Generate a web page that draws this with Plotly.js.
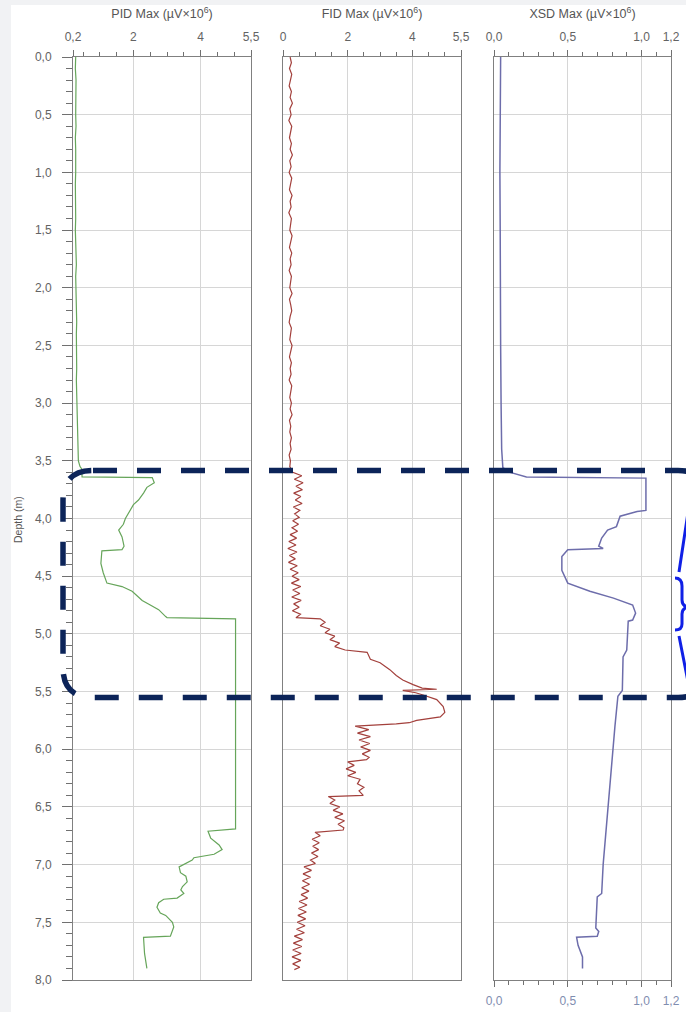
<!DOCTYPE html>
<html>
<head>
<meta charset="utf-8">
<script src="https://cdn.plot.ly/plotly-3.0.1.min.js"></script>
<style>
html,body{margin:0;padding:0;background:#ffffff;}
#plot{width:686px;height:1012px;}
</style>
</head>
<body>
<div id="plot"></div>
<script>
// ---------------- data ----------------
const pidDepth = [0.0,0.1,0.2,0.3,0.4,0.5,0.6,0.7,0.8,0.9,
  1.0,1.1,1.2,1.3,1.4,1.5,1.6,1.7,1.8,1.9,
  2.0,2.1,2.2,2.3,2.4,2.5,2.6,2.7,2.8,2.9,
  3.0,3.1,3.2,3.3,3.4,3.5,3.55,3.57,3.64,3.645,
  3.69,3.73,3.78,3.84,3.88,3.93,4.0,4.05,4.1,4.16,
  4.24,4.27,4.28,4.39,4.47,4.56,4.57,4.59,4.63,4.67,
  4.71,4.75,4.79,4.85,4.86,4.87,6.69,6.71,6.77,6.83,
  6.87,6.91,6.94,6.96,7.02,7.07,7.1,7.15,7.19,7.22,
  7.25,7.29,7.3,7.33,7.37,7.42,7.44,7.5,7.54,7.62,
  7.63,7.77,7.9];
const pidValue = [0.28,0.27,0.29,0.28,0.27,0.28,0.29,0.27,0.28,0.29,
  0.28,0.27,0.28,0.29,0.28,0.27,0.28,0.29,0.30,0.28,
  0.29,0.30,0.29,0.31,0.30,0.31,0.30,0.31,0.30,0.31,
  0.30,0.31,0.32,0.33,0.34,0.36,0.41,0.46,0.47,2.56,
  2.62,2.40,2.30,2.15,2.00,1.90,1.76,1.70,1.56,1.66,
  1.72,1.66,1.06,1.03,1.10,1.21,1.36,1.66,1.96,2.10,
  2.26,2.50,2.75,2.96,3.00,5.04,5.04,4.22,4.30,4.55,
  4.64,4.40,3.80,3.75,3.36,3.40,3.56,3.60,3.46,3.41,
  3.50,3.30,2.90,2.75,2.70,2.80,2.96,3.16,3.20,3.10,
  2.30,2.33,2.40];

const fidDepthA = [0.00,0.05,0.10,0.15,0.20,0.25,0.30,0.35,0.40,0.45,
  0.50,0.55,0.60,0.65,0.70,0.75,0.80,0.85,0.90,0.95,
  1.00,1.05,1.10,1.15,1.20,1.25,1.30,1.35,1.40,1.45,
  1.50,1.55,1.60,1.65,1.70,1.75,1.80,1.85,1.90,1.95,
  2.00,2.05,2.10,2.15,2.20,2.25,2.30,2.35,2.40,2.45,
  2.50,2.55,2.60,2.65,2.70,2.75,2.80,2.85,2.90,2.95,
  3.00,3.05,3.10,3.15,3.20,3.25,3.30,3.35,3.40,3.45,
  3.50,3.55];
const fidValueA = [0.22,0.26,0.20,0.27,0.23,0.19,0.26,0.22,0.29,0.21,
  0.25,0.18,0.27,0.23,0.20,0.26,0.22,0.29,0.21,0.25,
  0.19,0.27,0.23,0.20,0.28,0.22,0.25,0.18,0.26,0.23,
  0.21,0.28,0.24,0.20,0.27,0.22,0.25,0.19,0.26,0.23,
  0.21,0.28,0.20,0.24,0.27,0.22,0.19,0.26,0.23,0.21,
  0.28,0.24,0.20,0.26,0.22,0.25,0.19,0.27,0.23,0.21,
  0.26,0.22,0.28,0.20,0.24,0.21,0.26,0.22,0.25,0.19,
  0.23,0.21];
const fidDepthB = [3.60,3.63,3.66,3.69,3.72,3.75,3.78,3.81,3.84,3.87,
  3.90,3.93,3.96,3.99,4.02,4.05,4.08,4.11,4.14,4.17,
  4.20,4.23,4.26,4.29,4.32,4.35,4.38,4.41,4.44,4.47,
  4.50,4.53,4.56,4.59,4.62,4.65,4.68,4.71,4.74,4.77,
  4.80,4.83,4.86];
const fidValueB = [0.30,0.58,0.35,0.62,0.40,0.60,0.33,0.55,0.38,0.59,
  0.32,0.52,0.36,0.50,0.30,0.48,0.28,0.45,0.22,0.42,
  0.18,0.40,0.15,0.43,0.20,0.38,0.17,0.44,0.22,0.47,
  0.28,0.50,0.26,0.55,0.30,0.52,0.27,0.56,0.33,0.50,
  0.29,0.54,0.40];
const fidDepthC = [4.87,4.90,4.93,4.96,4.99,5.02,5.05,5.08,5.11,5.14,
  5.16,5.22,5.25,5.31,5.36,5.40,5.42,5.44,5.47,5.48,
  5.49,5.51,5.53,5.57,5.63,5.68,5.72,5.75,5.77,5.78,
  5.80];
const fidValueC = [1.15,1.30,1.15,1.45,1.30,1.60,1.45,1.75,1.60,1.92,
  2.60,2.70,3.00,3.30,3.50,3.70,3.85,4.02,4.30,4.75,
  3.70,4.10,4.33,4.75,4.95,5.00,4.86,4.13,3.90,3.50,
  2.23];
const fidDepthD = [5.83,5.86,5.89,5.92,5.95,5.98,6.01,6.04,6.07,6.09,
  6.11,6.14,6.17,6.20,6.23,6.26,6.30,6.33,6.36,6.40,
  6.41,6.44,6.47,6.50,6.53,6.56,6.59,6.62,6.65,6.68,
  6.70,6.72,6.75,6.78,6.81,6.84,6.87,6.90,6.93,6.96,
  6.99,7.02,7.05,7.08,7.11,7.14,7.17,7.20,7.23,7.26,
  7.29,7.32,7.35,7.38,7.41,7.44,7.47,7.50,7.53,7.56,
  7.59,7.62,7.65,7.68,7.71,7.74,7.77,7.80,7.83,7.86,
  7.89,7.91];
const fidValueD = [2.65,2.30,2.70,2.35,2.68,2.40,2.70,2.45,2.66,2.58,
  2.00,2.20,1.95,2.25,2.00,2.38,2.30,2.50,2.35,2.48,
  1.40,1.60,1.45,1.75,1.55,1.85,1.60,1.90,1.70,1.88,
  1.86,0.99,1.15,0.90,1.12,0.92,1.10,0.88,1.08,0.85,
  1.00,0.65,0.88,0.62,0.85,0.60,0.82,0.58,0.80,0.56,
  0.76,0.50,0.74,0.48,0.72,0.46,0.70,0.44,0.68,0.42,
  0.66,0.35,0.60,0.32,0.58,0.30,0.56,0.28,0.55,0.30,
  0.52,0.35];

const xsdDepth = [0.0,0.5,1.0,1.5,2.0,2.5,3.0,3.4,3.56,3.6,
  3.64,3.65,3.93,3.94,3.98,4.07,4.1,4.17,4.24,4.26,
  4.27,4.33,4.45,4.56,4.63,4.69,4.75,4.82,4.88,4.89,
  5.14,5.2,5.49,5.54,5.8,6.09,6.44,6.8,7.0,7.25,
  7.28,7.55,7.58,7.62,7.63,7.7,7.8,7.9];
const xsdValue = [0.045,0.040,0.040,0.042,0.042,0.045,0.048,0.052,0.060,0.110,
  0.220,1.030,1.030,0.970,0.855,0.830,0.770,0.730,0.710,0.740,
  0.500,0.460,0.460,0.500,0.650,0.810,0.940,0.960,0.940,0.910,
  0.900,0.875,0.870,0.840,0.820,0.800,0.775,0.755,0.740,0.730,
  0.700,0.690,0.710,0.700,0.560,0.570,0.600,0.600];

const pidTicks = [0.2, 2, 4, 5.5];
const pidTickText = ['0,2', '2', '4', '5,5'];
const fidTicks = [0, 2, 4, 5.5];
const fidTickText = ['0', '2', '4', '5,5'];
const xsdTicks = [0, 0.5, 1.0, 1.2];
const xsdTickText = ['0,0', '0,5', '1,0', '1,2'];
const titles = ['PID Max (µV×10<sup>6</sup>)', 'FID Max (µV×10<sup>6</sup>)', 'XSD Max (µV×10<sup>6</sup>)'];
const depthTitle = 'Depth (m)';

// ---------------- layout helpers ----------------
const W = 686, H = 1012;
const px = v => v / W;                    // pixel -> paper x
const yTop = 57, yBot = 980;
const dep = p => (p - yTop) / (yBot - yTop) * 8;   // pixel -> depth

const gridC = '#d6d6d6', lineC = '#808080', tickC = '#707070';
const tickFont = {family: 'Liberation Sans, Arial, sans-serif', size: 12, color: '#636363'};
const titleFont = {family: 'Liberation Sans, Arial, sans-serif', size: 12.5, color: '#555555'};

function xAxis(dom, range, tv, tt, anchor, title, minorD) {
  return {
    domain: [px(dom[0]), px(dom[1])], range: range, anchor: anchor, side: 'top',
    tickmode: 'array', tickvals: tv, ticktext: tt,
    showgrid: true, gridcolor: gridC, gridwidth: 1, zeroline: false,
    showline: true, linecolor: lineC, linewidth: 1, mirror: true,
    ticks: 'outside', ticklen: 6, tickcolor: tickC, tickwidth: 1,
    minor: {tickmode: 'linear', tick0: 0, dtick: minorD, ticks: 'outside', ticklen: 4, tickcolor: tickC, tickwidth: 1, showgrid: false},
    tickfont: tickFont, automargin: false, fixedrange: true, ticklabelstandoff: 4,
    title: {text: title, font: titleFont, standoff: 8}
  };
}
function yAxis(anchor, labels) {
  return {
    domain: [1 - yBot / H, 1 - yTop / H], range: [8, 0], anchor: anchor,
    tickmode: 'linear', tick0: 0, dtick: 0.5, tickformat: '.1f',
    showticklabels: labels, ticks: labels ? 'outside' : '', ticklen: 10, tickcolor: tickC,
    minor: labels ? {tickmode: 'linear', tick0: 0, dtick: 0.1, ticks: 'outside', ticklen: 6, tickcolor: tickC, tickwidth: 1, showgrid: false} : {},
    showgrid: true, gridcolor: gridC, gridwidth: 1, zeroline: false,
    showline: true, linecolor: lineC, linewidth: 1, mirror: true,
    tickfont: tickFont, automargin: false, fixedrange: true, ticklabelstandoff: 8
  };
}

const traces = [
  {x: pidValue, y: pidDepth, xaxis: 'x', yaxis: 'y', type: 'scatter', mode: 'lines',
   line: {color: '#66a55a', width: 1.2}, hoverinfo: 'skip'},
  {x: [].concat(fidValueA, fidValueB, fidValueC, fidValueD),
   y: [].concat(fidDepthA, fidDepthB, fidDepthC, fidDepthD),
   xaxis: 'x2', yaxis: 'y2', type: 'scatter', mode: 'lines',
   line: {color: '#a3403c', width: 1.2}, hoverinfo: 'skip'},
  {x: xsdValue, y: xsdDepth, xaxis: 'x3', yaxis: 'y3', type: 'scatter', mode: 'lines',
   line: {color: '#6d6dab', width: 1.5}, hoverinfo: 'skip'},
  {x: xsdValue, y: xsdDepth, xaxis: 'x4', yaxis: 'y3', type: 'scatter', mode: 'lines',
   line: {color: 'rgba(0,0,0,0)', width: 0}, hoverinfo: 'skip'}
];

// dashed rounded box (annotation overlay)
const L = 63, R = 708, T = 470.5, B = 697.5, rad = 30;
const boxPath = 'M' + px(L + rad) + ',' + dep(T) +
  ' L' + px(R - rad) + ',' + dep(T) +
  ' Q' + px(R) + ',' + dep(T) + ' ' + px(R) + ',' + dep(T + rad) +
  ' L' + px(R) + ',' + dep(B - rad) +
  ' Q' + px(R) + ',' + dep(B) + ' ' + px(R - rad) + ',' + dep(B) +
  ' L' + px(L + rad) + ',' + dep(B) +
  ' Q' + px(L) + ',' + dep(B) + ' ' + px(L) + ',' + dep(B - rad) +
  ' L' + px(L) + ',' + dep(T + rad) +
  ' Q' + px(L) + ',' + dep(T) + ' ' + px(L + rad) + ',' + dep(T);

// blue brace on the right
const P = (a, b) => px(a) + ',' + dep(b);
const bracePath = 'M' + P(692, 486) + ' L' + P(679, 572) +
  ' M' + P(675, 578) + ' Q' + P(682, 578) + ' ' + P(682, 586) +
  ' L' + P(682, 600) + ' Q' + P(682, 606) + ' ' + P(688, 607) +
  ' Q' + P(682, 608) + ' ' + P(682, 614) +
  ' L' + P(682, 624) + ' Q' + P(682, 630) + ' ' + P(675, 630) +
  ' M' + P(679, 636) + ' L' + P(692, 702);

const layout = {
  width: W, height: H, margin: {l: 0, r: 0, t: 0, b: 0},
  paper_bgcolor: '#ffffff', plot_bgcolor: '#ffffff',
  separators: ',.', showlegend: false,
  xaxis: xAxis([73, 251], [0.2, 5.5], pidTicks, pidTickText, 'y', titles[0], 0.5),
  xaxis2: xAxis([283, 461], [0, 5.5], fidTicks, fidTickText, 'y2', titles[1], 0.5),
  xaxis3: xAxis([494, 671], [0, 1.2], xsdTicks, xsdTickText, 'y3', titles[2], 0.1),
  xaxis4: {overlaying: 'x3', matches: 'x3', anchor: 'y3', side: 'bottom', range: [0, 1.2],
    tickmode: 'array', tickvals: xsdTicks, ticktext: xsdTickText,
    ticks: 'outside', ticklen: 6, tickcolor: tickC, showgrid: false, zeroline: false,
    showline: true, linecolor: lineC, ticklabelstandoff: 4,
    minor: {tickmode: 'linear', tick0: 0, dtick: 0.1, ticks: 'outside', ticklen: 4, tickcolor: tickC, tickwidth: 1},
    tickfont: {family: 'Liberation Sans, Arial, sans-serif', size: 12, color: '#7f8db0'},
    automargin: false, fixedrange: true},
  yaxis: yAxis('x', true),
  yaxis2: Object.assign(yAxis('x2', false), {matches: 'y'}),
  yaxis3: Object.assign(yAxis('x3', false), {matches: 'y'}),
  annotations: [
    {text: depthTitle, xref: 'paper', yref: 'paper', x: px(18), y: 1 - 520 / H,
     textangle: -90, showarrow: false, font: {family: 'Liberation Sans, Arial, sans-serif', size: 10.5, color: '#555555'},
     xanchor: 'center', yanchor: 'middle'}
  ],
  shapes: [
    {type: 'rect', xref: 'paper', yref: 'paper', x0: 0, x1: px(11), y0: 0, y1: 1,
     fillcolor: '#f1f2f4', line: {width: 0}, layer: 'below'},
    {type: 'rect', xref: 'paper', yref: 'paper', x0: 0, x1: 1, y0: 1 - 5 / H, y1: 1,
     fillcolor: '#f1f2f4', line: {width: 0}, layer: 'below'},
    {type: 'path', xref: 'paper', yref: 'y', path: boxPath,
     line: {color: '#0c2459', width: 5.5, dash: '24px,20px'}, layer: 'above'},
    {type: 'path', xref: 'paper', yref: 'y', path: bracePath,
     line: {color: '#1020e6', width: 3}, layer: 'above'}
  ]
};

Plotly.newPlot('plot', traces, layout, {staticPlot: true, displayModeBar: false});
</script>
</body>
</html>
